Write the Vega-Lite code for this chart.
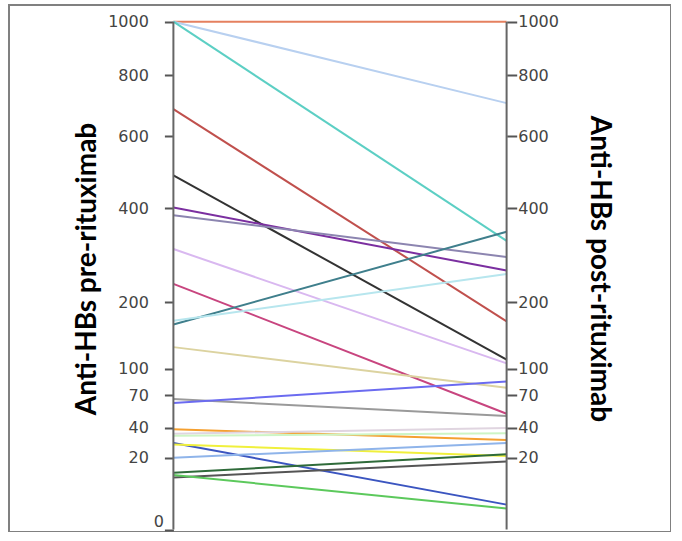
{
  "$schema": "https://vega.github.io/schema/vega-lite/v6.json",
  "width": 662,
  "height": 527,
  "autosize": {"type": "none"},
  "padding": {"left": 9, "top": 5, "right": 0, "bottom": 0},
  "config": {"view": {"stroke": "#808080", "strokeWidth": 2}},
  "data": {"values": [
    {"id": "S01", "time": "pre", "value": 1000}, {"id": "S01", "time": "post", "value": 1000},
    {"id": "S02", "time": "pre", "value": 1000}, {"id": "S02", "time": "post", "value": 705},
    {"id": "S03", "time": "pre", "value": 1000}, {"id": "S03", "time": "post", "value": 323},
    {"id": "S04", "time": "pre", "value": 685}, {"id": "S04", "time": "post", "value": 168},
    {"id": "S05", "time": "pre", "value": 486}, {"id": "S05", "time": "post", "value": 112},
    {"id": "S06", "time": "pre", "value": 402}, {"id": "S06", "time": "post", "value": 260},
    {"id": "S07", "time": "pre", "value": 383}, {"id": "S07", "time": "post", "value": 288},
    {"id": "S08", "time": "pre", "value": 305}, {"id": "S08", "time": "post", "value": 107},
    {"id": "S09", "time": "pre", "value": 234}, {"id": "S09", "time": "post", "value": 52},
    {"id": "S10", "time": "pre", "value": 163}, {"id": "S10", "time": "post", "value": 344},
    {"id": "S11", "time": "pre", "value": 169}, {"id": "S11", "time": "post", "value": 253},
    {"id": "S12", "time": "pre", "value": 129}, {"id": "S12", "time": "post", "value": 78},
    {"id": "S13", "time": "pre", "value": 66}, {"id": "S13", "time": "post", "value": 50},
    {"id": "S14", "time": "pre", "value": 62}, {"id": "S14", "time": "post", "value": 85},
    {"id": "S15", "time": "pre", "value": 39}, {"id": "S15", "time": "post", "value": 31},
    {"id": "S16", "time": "pre", "value": 35.5}, {"id": "S16", "time": "post", "value": 40},
    {"id": "S17", "time": "pre", "value": 34}, {"id": "S17", "time": "post", "value": 36},
    {"id": "S18", "time": "pre", "value": 29}, {"id": "S18", "time": "post", "value": 2.4},
    {"id": "S19", "time": "pre", "value": 28}, {"id": "S19", "time": "post", "value": 21},
    {"id": "S20", "time": "pre", "value": 20}, {"id": "S20", "time": "post", "value": 29},
    {"id": "S21", "time": "pre", "value": 12.5}, {"id": "S21", "time": "post", "value": 22},
    {"id": "S22", "time": "pre", "value": 10.5}, {"id": "S22", "time": "post", "value": 18},
    {"id": "S23", "time": "pre", "value": 11.5}, {"id": "S23", "time": "post", "value": 1.7}
  ]},
  "layer": [
    {
      "mark": {"type": "line", "strokeWidth": 2},
      "encoding": {
        "x": {"field": "time", "type": "nominal", "scale": {"type": "point", "domain": ["pre", "post"], "padding": 0.4934}, "axis": null},
        "y": {
          "field": "value", "type": "quantitative",
          "scale": {"type": "pow", "exponent": 0.5, "domain": [-0.024, 1066.8], "nice": false, "zero": false},
          "axis": {
            "orient": "left", "offset": -164.4,
            "values": [0, 20, 40, 70, 100, 200, 400, 600, 800, 1000],
            "format": "d",
            "domain": false, "grid": false,
            "tickSize": 9, "tickWidth": 2, "tickColor": "#555555",
            "labelFont": "DejaVu Sans", "labelFontSize": 16, "labelColor": "#444444",
            "labelPadding": {"condition": {"test": "datum.value === 0", "value": 1}, "value": 16},
            "labelBaseline": {"condition": {"test": "datum.value === 0", "value": "bottom"}, "value": "middle"},
            "labelOverlap": false, "labelFlush": false,
            "title": "Anti-HBs pre-rituximab",
            "titleFont": "Lato", "titleFontSize": 28, "titleFontWeight": "bold", "titleColor": "#000000",
            "titlePadding": 6
          }
        },
        "color": {
          "field": "id", "type": "nominal", "legend": null,
          "scale": {
            "domain": ["S01","S02","S03","S04","S05","S06","S07","S08","S09","S10","S11","S12","S13","S14","S15","S16","S17","S18","S19","S20","S21","S22","S23"],
            "range": ["#e5805f","#b8d0f0","#5ccfc4","#c0504d","#333333","#7b2fa0","#8c85b0","#d9b8f0","#c8457f","#3f7f8c","#b7e6ee","#dcd3a0","#9a9a9a","#6b6bf0","#f5a030","#e0d5e0","#cdf5c5","#3b55c0","#f0f03c","#8fb4ea","#2f6b3a","#555555","#5cc95c"]
          }
        }
      }
    },
    {
      "data": {"values": [{}]},
      "mark": {"type": "rule", "color": "#666666", "strokeWidth": 2},
      "encoding": {
        "x": {"datum": "pre", "type": "nominal"},
        "y": {"datum": 0, "type": "quantitative", "scale": {"type": "pow", "exponent": 0.5, "domain": [-0.024, 1066.8], "nice": false, "zero": false}, "axis": null},
        "y2": {"datum": 1000}
      }
    },
    {
      "data": {"values": [{}]},
      "mark": {"type": "rule", "color": "#666666", "strokeWidth": 2},
      "encoding": {
        "x": {"datum": "post", "type": "nominal"},
        "y": {
          "datum": 0, "type": "quantitative",
          "scale": {"type": "pow", "exponent": 0.5, "domain": [-0.024, 1066.8], "nice": false, "zero": false},
          "axis": {
            "orient": "right", "offset": -164.3,
            "values": [20, 40, 70, 100, 200, 400, 600, 800, 1000],
            "format": "d",
            "domain": false, "grid": false,
            "tickSize": 10, "tickWidth": 2, "tickColor": "#555555",
            "labelFont": "DejaVu Sans", "labelFontSize": 16, "labelColor": "#444444",
            "labelPadding": 1, "labelOverlap": false, "labelFlush": false,
            "title": "Anti-HBs post-rituximab",
            "titleFont": "Lato", "titleFontSize": 28, "titleFontWeight": "bold", "titleColor": "#000000",
            "titlePadding": 26
          }
        },
        "y2": {"datum": 1000}
      }
    }
  ],
  "resolve": {"axis": {"y": "independent"}}
}
